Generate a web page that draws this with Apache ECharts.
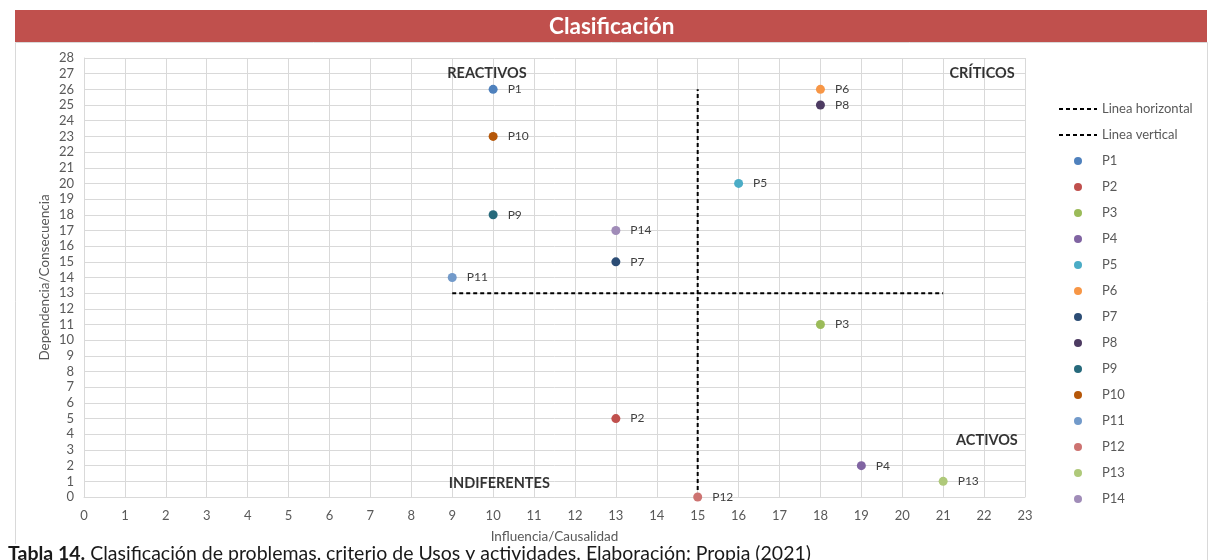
<!DOCTYPE html>
<html>
<head>
<meta charset="utf-8">
<script src="https://cdn.jsdelivr.net/npm/echarts@6/dist/echarts.min.js"></script>
<style>
  html, body { margin: 0; padding: 0; background: #ffffff; }
  #chart { width: 1209px; height: 560px; }
</style>
</head>
<body>
<div id="chart"></div>
<script>
// Problem names, influence (x) and dependence (y) scores
const problems = ['P1', 'P2', 'P3', 'P4', 'P5', 'P6', 'P7', 'P8', 'P9', 'P10', 'P11', 'P12', 'P13', 'P14'];
const influencia = [10, 13, 18, 19, 16, 18, 13, 18, 10, 10, 9, 15, 21, 13];
const dependencia = [26, 5, 11, 2, 20, 26, 15, 25, 18, 23, 14, 0, 1, 17];
const pointColors = ['#4F81BD', '#C0504D', '#9BBB59', '#8064A2', '#4BACC6', '#F79646', '#2C4D75',
                     '#4D3B62', '#276A7C', '#B65708', '#729ACA', '#CD7371', '#AFC97A', '#A08CB8'];

// Dividing lines of the quadrants
const lineaHorizontal = [[9, 13], [21, 13]];
const lineaVertical = [[15, 0], [15, 26]];

// Quadrant names and the data point each one is anchored to
const quadrantNames = ['REACTIVOS', 'CRÍTICOS', 'ACTIVOS', 'INDIFERENTES'];
const quadrantAnchors = [[9.85, 27.05], [21.95, 27.05], [22.07, 3.6], [10.15, 0.9]];

const FONT = 'Lato, "Open Sans", sans-serif';

const chart = echarts.init(document.getElementById('chart'), null, { renderer: 'canvas' });

const dashed = { color: '#000000', width: 2, type: [4, 3] };

const series = [
  {
    name: 'Linea horizontal', type: 'line', data: lineaHorizontal, symbol: 'none',
    lineStyle: dashed, itemStyle: { color: '#000000' }, z: 3, silent: true
  },
  {
    name: 'Linea vertical', type: 'line', data: lineaVertical, symbol: 'none',
    lineStyle: dashed, itemStyle: { color: '#000000' }, z: 3, silent: true
  }
];

problems.forEach((p, i) => {
  series.push({
    name: p,
    type: 'scatter',
    data: [[influencia[i], dependencia[i]]],
    symbolSize: 9,
    itemStyle: { color: pointColors[i], opacity: 1 },
    z: 4,
    label: {
      show: true, position: 'right', distance: 10, formatter: p,
      color: '#404040', fontFamily: FONT, fontSize: 12
    }
  });
});

series.push({
  name: 'cuadrantes',
  type: 'scatter',
  data: quadrantAnchors.map((c, i) => ({ value: c, name: quadrantNames[i] })),
  symbolSize: 0,
  silent: true,
  z: 5,
  label: {
    show: true, position: 'inside', formatter: '{b}',
    color: '#000000', fontFamily: FONT, fontSize: 14.5, fontWeight: 'bold'
  }
});

// Legend: the two dashed lines show only their line, the problems show a dot
const legendData = [
  { name: 'Linea horizontal', itemStyle: { opacity: 0 } },
  { name: 'Linea vertical', itemStyle: { opacity: 0 } }
].concat(problems.map(p => ({ name: p })));

const option = {
  backgroundColor: '#ffffff',
  animation: false,
  graphic: [
    {
      type: 'rect', left: 15, top: 42, z: -10,
      shape: { width: 1192, height: 530 },
      style: { fill: '#ffffff', stroke: '#d9d9d9', lineWidth: 1 }
    },
    {
      type: 'rect', left: 15, top: 10, z: -5,
      shape: { width: 1192, height: 32 },
      style: { fill: '#C0504D' }
    },
    {
      type: 'text', left: 549, top: 15, z: 10,
      style: {
        text: 'Clasificación', fill: '#ffffff',
        font: 'bold 22.5px ' + FONT
      }
    },
    {
      type: 'text', left: 8, top: 544, z: 20,
      style: {
        text: '{b|Tabla 14.} Clasificación de problemas, criterio de Usos y actividades. Elaboración: Propia (2021)',
        fill: '#1a1a1a', font: '19.5px ' + FONT,
        backgroundColor: '#ffffff', padding: [0, 4, 0, 0],
        rich: { b: { font: 'bold 19.5px ' + FONT, fill: '#1a1a1a' } }
      }
    }
  ],
  legend: {
    orient: 'vertical',
    left: 1053, top: 91,
    itemWidth: 38, itemHeight: 8, itemGap: 0,
    data: legendData,
    textStyle: { color: '#595959', fontFamily: FONT, fontSize: 13, lineHeight: 26 },
    selectedMode: false
  },
  grid: { left: 84, right: 184, top: 58, bottom: 63, containLabel: false },
  xAxis: {
    type: 'value', min: 0, max: 23, interval: 1,
    name: 'Influencia/Causalidad', nameLocation: 'middle', nameGap: 33,
    nameMoveOverlap: false,
    nameTextStyle: { color: '#595959', fontFamily: FONT, fontSize: 13.5 },
    axisLine: { show: true, lineStyle: { color: '#d9d9d9' } },
    axisTick: { show: false },
    axisLabel: { color: '#595959', fontFamily: FONT, fontSize: 13, margin: 12 },
    splitLine: { show: true, lineStyle: { color: '#d9d9d9', width: 1 } }
  },
  yAxis: {
    type: 'value', min: 0, max: 28, interval: 1,
    name: 'Dependencia/Consecuencia', nameLocation: 'middle', nameGap: 32,
    nameMoveOverlap: false,
    nameTextStyle: { color: '#595959', fontFamily: FONT, fontSize: 13.5 },
    axisLine: { show: true, lineStyle: { color: '#d9d9d9' } },
    axisTick: { show: false },
    axisLabel: { color: '#595959', fontFamily: FONT, fontSize: 13, margin: 10 },
    splitLine: { show: true, lineStyle: { color: '#d9d9d9', width: 1 } }
  },
  series: series
};

chart.setOption(option);
</script>
</body>
</html>
